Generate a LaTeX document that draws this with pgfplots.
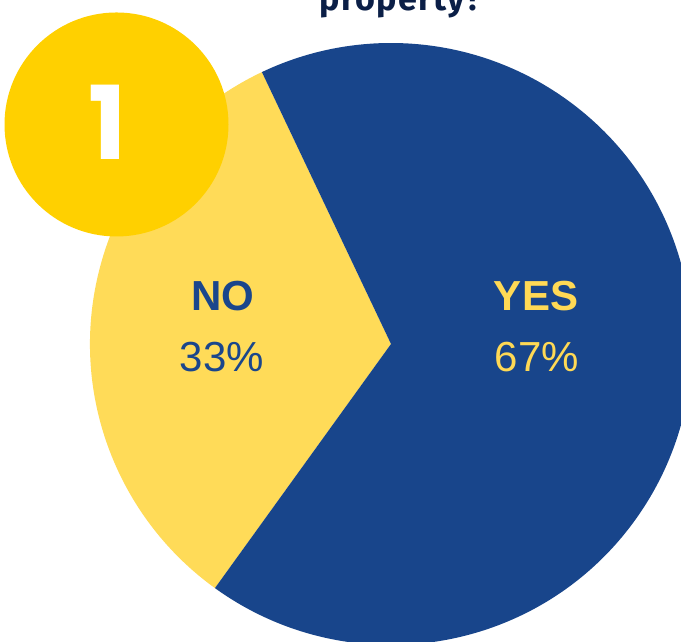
\documentclass[border=0pt]{standalone}
\usepackage{pgfplots}
\usepackage{pgfplotstable}
\pgfplotsset{compat=1.18}
\usepackage{fontspec}
\setmainfont{Liberation Sans}
\newfontfamily\titlefont[LetterSpace=4]{Fira Sans}
\newfontfamily\badgefont{Poppins}
\definecolor{pieblue}{HTML}{18458B}
\definecolor{pieyellow}{HTML}{FFDB58}
\definecolor{badge}{HTML}{FFD000}
\definecolor{navy}{HTML}{0B1F47}
\definecolor{labblue}{HTML}{1A468C}
\definecolor{labyellow}{HTML}{FFD955}

\pgfplotstableread{
label value
YES 67
NO 33
}\piedata

\begin{document}
\begin{tikzpicture}
\useasboundingbox (0,0) rectangle (6.81cm,6.42cm);
\clip (0,0) rectangle (6.81cm,6.42cm);
\pgfplotstablegetelem{0}{value}\of\piedata \pgfmathsetmacro{\yesval}{\pgfplotsretval}
\pgfplotstablegetelem{1}{value}\of\piedata \pgfmathsetmacro{\noval}{\pgfplotsretval}
\pgfmathsetmacro{\noStart}{115.4}
\pgfmathsetmacro{\noEnd}{\noStart+3.6*\noval}
\pgfmathsetmacro{\yesEnd}{\noEnd+3.6*\yesval}
\begin{axis}[
  at={(0,0)}, anchor=origin,
  scale only axis, width=6.81cm, height=6.42cm,
  xmin=0, xmax=681, ymin=0, ymax=642,
  hide axis, clip=true,
  /pgf/number format/assume math mode=true,
]
% pie wedges from the table values
\fill[pieyellow] (axis cs:391,298) -- ++(\noStart:3.01cm) arc[start angle=\noStart, end angle=\noEnd, radius=3.01cm] -- cycle;
\fill[pieblue] (axis cs:391,298) -- ++(\noEnd:3.01cm) arc[start angle=\noEnd, end angle=\yesEnd, radius=3.01cm] -- cycle;
% badge
\fill[badge] (axis cs:116.5,517.5) circle[radius=1.12cm];
\node[white, font=\badgefont\bfseries\fontsize{29}{29}\selectfont] at (axis cs:108,520) {1};
% labels
\node[labblue, font=\bfseries\fontsize{11.95}{14}\selectfont] at (axis cs:223,346) {NO};
\node[labblue, font=\fontsize{11.95}{14}\selectfont] at (axis cs:222,285) {\pgfmathprintnumber[assume math mode=true]{\noval}\%};
\node[labyellow, font=\bfseries\fontsize{11.95}{14}\selectfont] at (axis cs:536,346) {YES};
\node[labyellow, font=\fontsize{11.95}{14}\selectfont] at (axis cs:537,285) {\pgfmathprintnumber[assume math mode=true]{\yesval}\%};
% title (cut off at top, as in the reference)
\node[navy, anchor=base, font=\titlefont\bfseries\fontsize{9.7}{11}\selectfont] at (axis cs:401,631) {property?};
\end{axis}
\end{tikzpicture}
\end{document}
